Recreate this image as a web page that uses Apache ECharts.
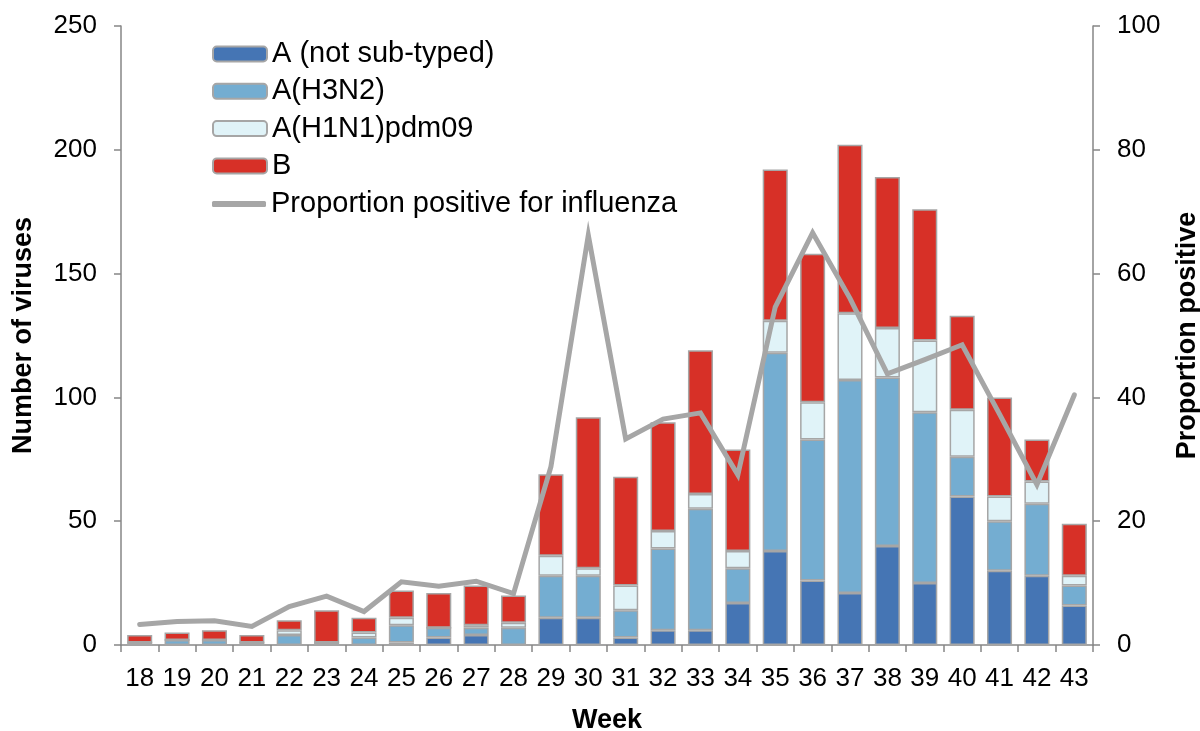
<!DOCTYPE html>
<html>
<head>
<meta charset="utf-8">
<script src="https://cdn.jsdelivr.net/npm/echarts@6/dist/echarts.min.js"></script>
<style>
html,body{margin:0;padding:0;background:#fff;}
#chart{width:1200px;height:731px;}
</style>
</head>
<body>
<div id="chart"></div>
<script>
const weeks = ['18','19','20','21','22','23','24','25','26','27','28','29','30','31','32','33','34','35','36','37','38','39','40','41','42','43'];
const aNotSubtyped = [0,0,0,0,0,0,0,1,3,4,0,11,11,3,6,6,17,38,26,21,40,25,60,30,28,16];
const aH3N2 = [1,2,2,1,4,1,3,7,4,3,7,17,17,11,33,49,14,80,57,86,68,69,16,20,29,8];
const aH1N1 = [0,0,0,0,2,0,2,3,0,1,2,8,3,10,7,6,7,13,15,27,20,29,19,10,9,4];
const bType = [3,3,4,3,4,13,6,11,14,16,11,33,61,44,44,58,41,61,60,68,61,53,38,40,17,21];
const proportionPositive = [3.3,3.8,3.9,3.0,6.2,7.9,5.4,10.2,9.5,10.3,8.3,28.8,66.2,33.3,36.5,37.5,27.5,54.6,66.6,56.0,43.8,46.1,48.5,37.3,25.9,40.4];

const FONT = '"Liberation Sans", Arial, sans-serif';
const AXIS_COLOR = '#868686';
const LINE_NAME = 'Proportion positive for influenza';
const chart = echarts.init(document.getElementById('chart'), null, {renderer:'canvas'});

function barSeries(name, data, color){
  return {
    name, type:'bar', stack:'v', data,
    barCategoryGap:'33%',
    itemStyle:{color, borderColor:'#A6A6A6', borderWidth:1.5},
    emphasis:{disabled:true}
  };
}

const legendText = {fontFamily:FONT, fontSize:29, color:'#000', lineHeight:29, padding:[0,0,0,0]};

chart.setOption({
  animation:false,
  textStyle:{fontFamily:FONT, color:'#000'},
  grid:{left:121, right:107, top:26, bottom:86, containLabel:false, outerBoundsMode:'none'},
  legend:[
    {
      orient:'vertical', left:207, top:34.5,
      itemWidth:54, itemHeight:15, itemGap:8.3,
      textStyle:legendText,
      selectedMode:false,
      data:['A (not sub-typed)','A(H3N2)','A(H1N1)pdm09','B']
    },
    {
      orient:'vertical', left:207, top:184.5,
      itemWidth:54, itemHeight:6,
      textStyle:legendText,
      selectedMode:false,
      data:[{name:LINE_NAME, icon:'roundRect', itemStyle:{color:'#A6A6A6', borderWidth:0}}]
    }
  ],
  xAxis:{
    type:'category', data:weeks, boundaryGap:true,
    name:'Week', nameLocation:'middle', nameGap:62, nameMoveOverlap:false,
    nameTextStyle:{fontFamily:FONT, fontSize:27, fontWeight:'bold', color:'#000'},
    axisLine:{lineStyle:{color:AXIS_COLOR, width:1.5}},
    axisTick:{show:true, alignWithLabel:false, interval:0, length:7, lineStyle:{color:AXIS_COLOR, width:1.5}},
    axisLabel:{interval:0, fontSize:26, color:'#000', margin:21, fontFamily:FONT},
    splitLine:{show:false}
  },
  yAxis:[
    {
      type:'value', min:0, max:250, interval:50, position:'left',
      name:'Number of viruses', nameLocation:'middle', nameGap:84, nameRotate:90,
      nameTextStyle:{fontFamily:FONT, fontSize:27, fontWeight:'bold', color:'#000'},
      axisLine:{show:true, lineStyle:{color:AXIS_COLOR, width:1.5}},
      axisTick:{show:true, length:7, lineStyle:{color:AXIS_COLOR, width:1.5}},
      axisLabel:{fontSize:26, color:'#000', margin:24, fontFamily:FONT},
      splitLine:{show:false}
    },
    {
      type:'value', min:0, max:100, interval:20, position:'right',
      name:'Proportion positive', nameLocation:'middle', nameGap:81, nameRotate:90,
      nameTextStyle:{fontFamily:FONT, fontSize:27, fontWeight:'bold', color:'#000'},
      axisLine:{show:true, lineStyle:{color:AXIS_COLOR, width:1.5}},
      axisTick:{show:true, length:7, lineStyle:{color:AXIS_COLOR, width:1.5}},
      axisLabel:{fontSize:26, color:'#000', margin:24, fontFamily:FONT},
      splitLine:{show:false}
    }
  ],
  series:[
    barSeries('A (not sub-typed)', aNotSubtyped, '#4575B4'),
    barSeries('A(H3N2)', aH3N2, '#74ADD1'),
    barSeries('A(H1N1)pdm09', aH1N1, '#E0F3F8'),
    barSeries('B', bType, '#D73027'),
    {
      name:LINE_NAME, type:'line', yAxisIndex:1,
      data:proportionPositive, symbol:'none', z:5,
      lineStyle:{color:'#A6A6A6', width:5, join:'miter', cap:'round'},
      itemStyle:{color:'#A6A6A6'},
      emphasis:{disabled:true}
    }
  ]
});
</script>
</body>
</html>
